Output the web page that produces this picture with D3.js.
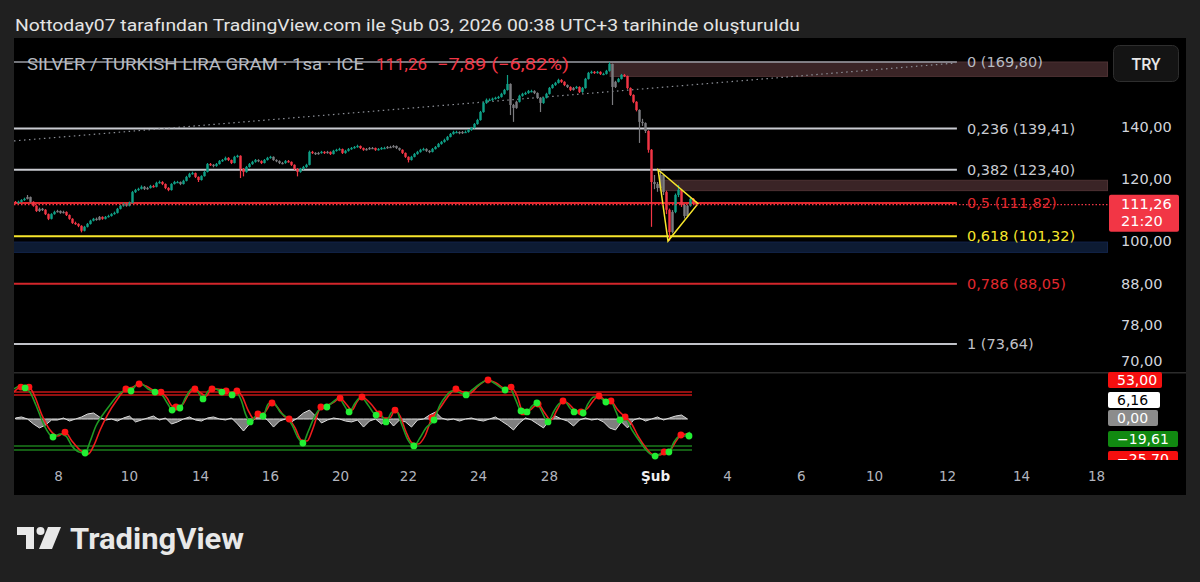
<!DOCTYPE html>
<html><head><meta charset="utf-8">
<script src="https://cdn.jsdelivr.net/npm/d3@7"></script>
<style>html,body{margin:0;background:#202020;}svg{display:block;font-family:Roboto,"Noto Sans",sans-serif}</style>
</head><body><svg id="c" width="1200" height="582"></svg>
<script>
// ---------------- DATA ----------------
const headerText = "Nottoday07 tarafından TradingView.com ile Şub 03, 2026 00:38 UTC+3 tarihinde oluşturuldu";
const symbolTitle = "SILVER / TURKISH LIRA GRAM · 1sa · ICE";
const lastPriceText = "111,26";
const changeText = "−7,89 (−6,82%)";
const lastPrice = 111.26;
const countdownText = "21:20";
const currencyText = "TRY";

const firstOpen = 112.2;
const closes = [
111.9,112.2,112.8,113.2,113.8,112.2,110.9,109.2,109.9,109.6,
108.2,106.7,108.2,108.9,109.2,108.6,108.9,107.9,106.7,105.4,
105.1,104.5,103.0,104.2,105.1,106.1,106.7,106.4,107.3,106.7,
107.3,107.6,108.2,108.6,109.9,110.9,111.5,110.9,111.9,115.5,
116.2,116.6,117.3,116.6,116.9,117.6,117.3,118.7,119.0,118.3,
116.9,116.2,118.3,119.0,119.0,118.3,119.4,120.8,121.9,122.2,
120.8,119.7,121.1,122.6,125.5,125.2,124.8,125.5,126.6,127.0,
127.8,127.0,125.9,128.2,128.6,123.7,122.6,124.4,125.5,126.3,
127.0,126.6,125.9,127.0,127.8,128.2,127.0,126.6,125.9,125.9,
126.6,126.3,125.2,123.7,122.6,123.7,124.4,125.2,130.1,129.7,
129.3,129.7,130.1,129.7,130.1,129.3,130.5,130.9,131.2,129.7,
130.5,131.2,131.6,132.0,132.4,131.6,130.9,131.2,131.6,131.6,
130.9,131.2,131.6,131.6,132.0,132.0,132.4,131.6,130.9,129.7,
128.2,127.0,128.2,129.3,130.1,130.9,131.2,130.5,130.1,131.2,
132.0,133.2,134.0,134.8,136.0,137.2,138.0,138.0,137.6,138.0,
138.0,138.8,139.7,141.3,143.0,146.4,150.4,151.8,151.8,152.3,
152.7,153.1,154.5,156.3,159.1,149.5,148.2,150.9,153.6,154.5,
154.9,155.8,155.8,154.9,152.7,150.4,152.7,154.5,157.2,158.6,
159.6,161.0,160.1,158.6,157.7,156.3,157.2,157.7,155.4,157.2,
161.5,164.4,164.9,164.4,164.9,163.9,163.9,165.4,168.8,157.7,
160.1,161.5,163.4,162.9,157.2,154.0,150.9,147.3,142.2,141.7,
138.4,130.9,119.0,118.3,116.9,121.5,115.5,109.6,102.6,108.9,
114.5,116.2,111.2,107.6,110.9,113.2,111.9,111.26];
const highs = [
112.5,112.6,113.1,113.6,114.5,114.0,112.4,111.1,110.3,110.2,
109.8,108.4,108.5,109.3,109.6,109.4,109.3,109.1,108.1,106.9,
105.8,105.3,104.7,104.5,105.4,106.4,107.0,107.1,107.6,107.5,
107.6,108.0,108.5,109.0,110.2,111.2,111.9,111.8,112.3,115.9,
116.6,117.0,117.8,117.6,117.3,118.0,118.0,119.1,119.5,119.3,
118.5,117.2,118.6,119.4,119.4,119.2,119.8,121.2,122.3,122.7,
122.4,121.0,121.4,123.0,125.9,125.9,125.5,125.9,127.0,127.4,
128.3,128.1,127.2,128.6,129.0,128.8,124.0,124.8,125.9,126.7,
127.4,127.3,126.9,127.4,128.2,128.6,128.4,127.3,126.9,126.3,
127.0,127.0,126.5,125.4,124.0,124.1,124.8,125.6,130.6,130.5,
130.0,130.1,130.5,130.4,130.5,130.3,130.9,131.3,131.7,131.4,
130.9,131.6,132.0,132.4,132.9,132.6,131.8,131.6,132.0,132.0,
131.8,131.6,132.0,132.1,132.4,132.5,132.8,132.6,131.8,131.1,
129.9,128.4,128.6,129.7,130.5,131.3,131.7,131.5,130.8,131.6,
132.4,133.6,134.4,135.3,136.4,137.6,138.5,138.5,138.3,138.4,
138.6,139.2,140.1,141.7,143.5,146.9,150.9,152.4,152.4,152.8,
153.2,153.6,155.0,156.8,163.4,159.4,150.0,151.4,154.1,155.0,
155.5,156.3,156.4,156.2,155.2,153.0,153.1,155.0,157.7,159.1,
160.1,161.6,161.4,160.4,158.9,158.0,157.7,158.2,158.0,157.7,
162.0,164.9,165.5,165.3,165.4,165.2,164.5,165.9,169.8,169.0,
160.6,162.0,163.9,163.9,163.1,157.5,154.3,151.2,147.6,143.5,
142.0,138.7,131.2,121.5,119.0,123.4,121.8,116.0,110.0,109.5,
115.0,118.0,116.5,111.5,111.3,113.8,113.5,112.3];
const lows = [
111.6,111.6,112.0,112.5,113.0,111.9,110.6,108.9,108.9,109.2,
107.9,106.3,106.5,108.0,108.7,108.3,108.4,107.6,106.4,105.1,
104.8,104.1,102.5,102.8,104.0,104.9,105.9,106.1,106.2,106.4,
106.5,107.1,107.4,108.0,108.4,109.7,110.6,110.6,110.7,111.7,
115.2,115.9,116.4,116.2,116.3,116.7,117.0,117.1,118.4,117.9,
116.5,115.8,116.0,118.1,118.6,117.9,118.1,119.2,120.5,121.6,
120.4,119.0,119.5,120.9,122.4,124.8,124.3,124.5,125.3,126.3,
126.8,126.6,125.5,125.7,127.9,120.4,121.0,122.3,124.2,125.2,
126.0,126.2,125.5,125.7,126.8,127.5,126.7,126.2,125.5,125.4,
125.6,126.0,124.8,123.3,121.0,122.3,123.4,124.1,125.0,129.3,
128.9,129.0,129.4,129.3,129.4,128.9,129.1,130.2,130.6,129.3,
129.4,130.2,130.9,131.3,131.7,131.2,130.5,130.6,130.9,131.2,
130.5,130.6,130.9,131.2,131.3,131.6,131.7,131.2,130.5,129.3,
127.8,126.1,126.8,128.0,129.0,129.8,130.6,130.1,129.6,129.9,
131.0,131.8,132.9,133.7,134.5,135.8,136.9,137.5,137.1,137.2,
137.6,137.7,138.5,139.4,141.0,142.7,146.1,150.0,151.2,151.3,
151.9,152.2,152.8,154.1,156.0,145.1,142.2,147.8,150.6,153.2,
154.0,154.5,155.2,154.4,152.2,146.4,150.0,152.4,154.2,156.9,
158.2,159.3,159.6,158.1,157.2,155.8,156.0,156.8,154.9,155.0,
156.9,161.2,164.0,163.9,164.0,163.4,163.3,163.6,165.0,149.5,
157.2,159.8,161.2,162.4,156.7,153.5,150.3,146.7,133.6,140.5,
137.6,129.8,104.2,116.5,115.6,116.5,114.5,108.2,100.0,102.2,
108.5,113.8,110.5,106.8,107.2,110.6,111.2,110.9];
const grayBars = [4,5,8,9,14,15,16,27,28,37,43,44,55,66,81,86,87,88,89,100,101,104,117,118,119,124,125,126,127,128,137,138,148,149,165,166,167,173,174,175,184,186,199,200,208,209,210,213,214,215,216,219,223,224];

const fibLevels = [0, 0.236, 0.382, 0.5, 0.618, 0.786, 1];
const fibPrices = [169.80, 139.41, 123.40, 111.82, 101.32, 88.05, 73.64];
const fibLabels = ["0 (169,80)", "0,236 (139,41)", "0,382 (123,40)", "0,5 (111,82)", "0,618 (101,32)", "0,786 (88,05)", "1 (73,64)"];
const fibStartBar = -1, fibEndBar = 313.8;

const priceTicks = [140, 120, 100, 88, 78, 70];
const priceTickLabels = ["140,00", "120,00", "100,00", "88,00", "78,00", "70,00"];

const dateTickBars = [14.2, 37.8, 61.5, 84.8, 108.2, 130.8, 154.2, 177.8, 213.2, 237.2, 261.8, 286.2, 310.5, 335.2, 360.2];
const dateTickLabels = ["8", "10", "14", "16", "20", "22", "24", "28", "Şub", "4", "6", "10", "12", "14", "18"];

// zones: [startBar, endBar, topPrice, bottomPrice]
const zoneSupply1 = [198.2, 364, 169.8, 162.7];
const zoneSupply2 = [214.8, 364, 119.6, 116.0];
const zoneDemand = [-1, 364, 99.6, 96.6];
const trendLine = [[-0.5, 134.4], [313.5, 169.3]];
const triangle = [[214.2, 123.4], [227.5, 111.6], [217.5, 99.9]];

// oscillator [bar, value]
const oscFast = [[-0.5,26.5],[1.5,29.1],[3.2,27.4],[4.8,23.8],[6.8,12.4],[9.5,-5.3],[12.5,-15.9],[14.8,-13.2],[16.8,-15.0],[18.8,-23.8],[21.2,-29.1],[23.2,-30.0],[24.8,-20.3],[26.8,-6.2],[28.8,2.6],[31.5,12.4],[34.2,21.2],[36.8,25.6],[38.5,24.7],[40.2,30.0],[41.5,31.8],[44.2,26.5],[46.5,23.8],[48.8,21.2],[50.8,13.2],[52.2,7.9],[53.5,8.8],[54.8,9.7],[56.8,19.4],[58.8,26.5],[60.8,23.8],[62.5,17.7],[64.2,24.7],[65.8,27.4],[67.5,25.6],[68.8,23.8],[70.5,24.7],[72.2,21.2],[73.5,23.8],[75.2,16.8],[76.8,3.5],[78.2,-2.6],[79.8,1.8],[81.2,4.4],[82.5,2.6],[84.2,13.2],[85.8,15.0],[88.2,6.2],[90.5,0.9],[92.2,-5.3],[94.2,-16.8],[95.8,-21.2],[97.5,-11.5],[99.5,0.9],[101.5,8.8],[103.8,10.6],[105.8,15.0],[107.8,18.5],[109.5,12.4],[111.2,6.2],[113.2,14.1],[115.2,19.4],[117.5,12.4],[120.2,3.5],[121.5,4.4],[123.5,-2.6],[125.2,5.3],[126.8,7.9],[128.8,-5.3],[130.8,-18.5],[132.8,-23.8],[134.8,-16.8],[136.8,-7.9],[139.5,-0.9],[141.5,12.4],[143.5,20.3],[145.5,24.7],[147.5,23.8],[150.2,21.2],[152.2,25.6],[154.8,30.9],[157.5,34.4],[159.5,31.8],[161.5,28.2],[163.2,25.6],[164.8,27.4],[166.5,18.5],[168.5,7.1],[170.5,6.2],[172.2,11.5],[173.8,14.1],[175.2,7.9],[177.5,-2.6],[179.5,7.1],[181.5,14.1],[183.2,15.0],[184.8,9.7],[186.2,6.2],[187.8,5.3],[189.2,5.3],[190.8,13.2],[192.8,19.4],[194.5,19.4],[196.8,15.0],[198.5,15.0],[200.2,6.2],[201.5,-0.9],[203.5,-0.9],[205.5,-9.7],[208.2,-20.3],[210.8,-29.1],[213.2,-32.7],[214.8,-30.9],[216.2,-29.1],[217.8,-29.1],[219.5,-20.3],[221.5,-15.0],[223.2,-15.0],[224.8,-11.5]];
const oscSlow = [[-0.5,23.8],[1.8,28.2],[4.5,28.2],[6.5,19.4],[8.8,3.5],[11.5,-9.7],[14.2,-15.0],[16.5,-11.5],[18.8,-19.4],[21.5,-27.4],[24.2,-30.9],[26.2,-22.9],[28.2,-9.7],[30.8,4.4],[33.8,16.8],[36.8,26.5],[39.2,28.2],[41.2,30.9],[43.5,29.1],[45.8,25.6],[48.5,23.8],[50.5,18.5],[52.2,11.5],[53.5,10.6],[55.5,12.4],[57.8,22.1],[59.8,26.5],[61.8,22.9],[63.5,20.3],[65.5,26.5],[67.5,26.5],[70.2,24.7],[71.8,22.9],[73.8,24.7],[75.5,20.3],[77.5,7.9],[79.5,0],[80.8,4.4],[82.8,5.3],[85.5,14.1],[87.5,9.7],[89.5,2.6],[91.2,0],[93.2,-7.9],[95.2,-18.5],[97.2,-19.4],[99.2,-7.9],[101.8,10.6],[104.2,12.4],[106.2,15.0],[108.2,18.5],[110.2,13.2],[112.2,7.9],[113.8,15.0],[115.5,19.4],[118.2,14.1],[121.2,4.4],[122.8,0.9],[124.8,0.9],[126.5,7.9],[128.2,2.6],[130.2,-11.5],[132.2,-21.2],[134.2,-22.1],[136.5,-15.0],[138.8,0.9],[141.5,9.7],[143.8,18.5],[146.8,26.5],[149.2,23.8],[151.5,22.9],[154.2,29.1],[157.5,34.4],[160.2,31.8],[162.8,27.4],[165.2,28.2],[167.2,20.3],[169.2,6.2],[171.5,7.9],[174.2,13.2],[176.2,6.2],[178.5,-0.9],[180.5,7.9],[182.5,15.9],[184.5,13.2],[186.5,7.9],[188.5,6.2],[190.8,9.7],[192.8,16.8],[194.5,20.3],[196.5,16.8],[198.5,15.9],[200.8,7.9],[203.2,1.8],[205.2,-3.5],[207.5,-15.0],[210.2,-25.6],[212.8,-31.8],[214.8,-31.8],[216.2,-29.1],[218.2,-27.4],[220.2,-19.4],[221.8,-14.1],[223.5,-13.2],[224.8,-12.4]];
const oscHistStep = 2;
const oscHist = [
0.9,1.8,0,-4.4,-7.9,-5.3,-0.9,-0.9,0.9,-1.8,
0,1.8,4.4,5.3,1.8,-0.9,0,-1.8,0.9,2.6,
-2.6,-0.9,0.9,2.6,-0.9,0.9,-4.4,-2.6,0,1.8,
-0.9,-1.8,0.9,1.8,0,-0.9,0.9,-4.4,-10.6,-4.4,
0.9,2.6,-0.9,-7.1,-1.8,0,-2.6,0.9,5.3,7.9,
2.6,-3.5,-0.9,0.9,0,-1.8,-2.6,-0.9,-7.1,-1.8,
0,-4.4,0,-6.2,-0.9,-2.6,-7.1,-0.9,0,3.5,
6.2,0.9,-0.9,0,-1.8,0,0.9,-0.9,-1.8,0,
1.8,-1.8,-5.3,-9.7,-3.5,0.9,-0.9,-4.4,-7.9,-0.9,
2.6,0,-1.8,-6.2,-0.9,0.9,-0.9,0,-2.6,-7.9,
-9.7,-2.6,-7.9,-0.9,0.9,-1.8,0,1.8,-0.9,0.9,
2.6,3.5,0];
const oscRedDots = [[1.8,28.2],[4.5,28.2],[16.5,-11.5],[36.8,26.5],[41.2,30.9],[48.5,23.8],[53.5,10.6],[59.8,26.5],[65.5,26.5],[70.2,24.7],[73.8,24.7],[80.8,4.4],[85.5,14.1],[91.2,0],[101.8,10.6],[108.2,18.5],[115.5,19.4],[121.2,4.4],[126.5,7.9],[138.8,0.9],[146.8,26.5],[157.5,34.4],[165.2,28.2],[169.2,6.2],[174.2,13.2],[182.5,15.9],[188.5,6.2],[194.5,20.3],[198.5,15.9],[203.2,1.8],[216.2,-29.1],[221.8,-14.1]];
const oscGreenDots = [[3.2,27.4],[12.5,-15.9],[23.2,-30.0],[38.5,24.7],[46.5,23.8],[52.2,7.9],[54.8,9.7],[62.5,17.7],[68.8,23.8],[72.2,21.2],[78.2,-2.6],[82.5,2.6],[95.8,-21.2],[103.8,10.6],[111.2,6.2],[120.2,3.5],[123.5,-2.6],[132.8,-23.8],[139.5,-0.9],[150.2,21.2],[163.2,25.6],[168.5,7.1],[170.5,6.2],[173.8,14.1],[177.5,-2.6],[186.2,6.2],[189.2,5.3],[196.8,15.0],[201.5,-0.9],[213.2,-32.7],[217.8,-29.1],[224.5,-15.0]];
const oscUpperBand = [23.8, 21.2];
const oscLowerBand = [-23.8, -27.4];
const oscBandEndBar = 225.5;
const oscAxisTexts = ["53,00", "6,16", "0,00", "−19,61", "−25,70"];

// ---------------- RENDER ----------------
const svg = d3.select("#c");
const W = 1200, H = 582;
const paneL = 14, paneR = 1186, paneT = 38, paneB = 495, plotR = 1108;
const mainB = 372, oscT = 373, oscB = 460;

const x = d3.scaleLinear().domain([0, 364]).range([15.5, 1107.5]);
const y = d3.scaleLog().domain([73.64, 169.80]).range([344, 62]);
const oy = d3.scaleLinear().domain([-30, 30]).range([453, 385]);

svg.append("rect").attr("width", W).attr("height", H).attr("fill", "#202020");
svg.append("rect").attr("x", paneL).attr("y", paneT).attr("width", paneR - paneL).attr("height", paneB - paneT).attr("fill", "#000");

svg.append("text").attr("x", 15).attr("y", 31).attr("fill", "#e4e4e4")
  .attr("font-size", 17).attr("textLength", 785).attr("lengthAdjust", "spacingAndGlyphs").text(headerText);

const defs = svg.append("defs");
defs.append("clipPath").attr("id", "mainClip").append("rect").attr("x", paneL).attr("y", paneT).attr("width", plotR - paneL).attr("height", mainB - paneT);
defs.append("clipPath").attr("id", "oscClip").append("rect").attr("x", paneL).attr("y", oscT).attr("width", plotR - paneL).attr("height", oscB - oscT);
defs.append("clipPath").attr("id", "oscAxisClip").append("rect").attr("x", plotR).attr("y", oscT - 2).attr("width", 80).attr("height", oscB - oscT + 2);

const main = svg.append("g").attr("clip-path", "url(#mainClip)");

// zones
function zone(z, fill, stroke) {
  main.append("rect").attr("x", x(z[0])).attr("width", x(z[1]) - x(z[0]))
    .attr("y", y(z[2])).attr("height", y(z[3]) - y(z[2]))
    .attr("fill", fill).attr("stroke", stroke).attr("stroke-width", 1);
}
zone(zoneDemand, "#0d1b33", "#13244a");
zone(zoneSupply1, "#3a2426", "#4d3133");
zone(zoneSupply2, "#3a2426", "#4d3133");

// fib lines
const fibStyle = {0:"#9a9da5", 0.236:"#c9cbd1", 0.382:"#c9cbd1", 0.5:"#e0282e", 0.618:"#f7e62c", 0.786:"#d3262b", 1:"#c0c2c8"};
const fibText = {0:"#b8bbc2", 0.236:"#c9cbd1", 0.382:"#c9cbd1", 0.5:"#e0282e", 0.618:"#f7e62c", 0.786:"#e0282e", 1:"#c0c2c8"};
fibLevels.forEach((lv, i) => {
  main.append("line").attr("x1", x(fibStartBar)).attr("x2", x(fibEndBar))
    .attr("y1", y(fibPrices[i])).attr("y2", y(fibPrices[i]))
    .attr("stroke", fibStyle[lv]).attr("stroke-width", lv === 0 ? 1.5 : 2);
});

// trend line (dotted)
main.append("line").attr("x1", x(trendLine[0][0])).attr("y1", y(trendLine[0][1]))
  .attr("x2", x(trendLine[1][0])).attr("y2", y(trendLine[1][1]))
  .attr("stroke", "#8d9098").attr("stroke-width", 1.2).attr("stroke-dasharray", "1.5 3.5");

// candles
const grays = new Set(grayBars);
const candles = closes.map((c, i) => ({i, o: i === 0 ? firstOpen : closes[i - 1], c, h: highs[i], l: lows[i]}));
const cg = main.append("g");
const col = d => grays.has(d.i) ? "#7b7b7f" : (d.c >= d.o ? "#0f9f86" : "#f23645");
cg.selectAll("line.w").data(candles).join("line").attr("class", "w")
  .attr("x1", d => x(d.i)).attr("x2", d => x(d.i))
  .attr("y1", d => y(d.h)).attr("y2", d => y(d.l))
  .attr("stroke", col).attr("stroke-width", 1.2);
cg.selectAll("rect.b").data(candles).join("rect").attr("class", "b")
  .attr("x", d => x(d.i) - 1.2).attr("width", 2.4)
  .attr("y", d => y(Math.max(d.o, d.c)))
  .attr("height", d => Math.max(1.2, Math.abs(y(d.o) - y(d.c))))
  .attr("fill", col);

// triangle
main.append("path").attr("d", d3.line().x(d => x(d[0])).y(d => y(d[1]))(triangle) + "Z")
  .attr("fill", "none").attr("stroke", "#f7e62c").attr("stroke-width", 1.5);

// last price line
main.append("line").attr("x1", paneL).attr("x2", plotR).attr("y1", y(lastPrice)).attr("y2", y(lastPrice))
  .attr("stroke", "#f23645").attr("stroke-width", 1.2).attr("stroke-dasharray", "1.5 2");

// fib labels
const fl = svg.append("g").attr("font-family", "DejaVu Sans, sans-serif").attr("font-size", 14.5);
fibLevels.forEach((lv, i) => {
  fl.append("text").attr("x", 967).attr("y", y(fibPrices[i])).attr("dy", "0.35em")
    .attr("fill", fibText[lv]).text(fibLabels[i]);
});

// title
const tt = svg.append("g").attr("font-size", 16.5);
tt.append("text").attr("x", 27).attr("y", 70).attr("fill", "#b8bbc2")
  .attr("textLength", 337).attr("lengthAdjust", "spacingAndGlyphs").text(symbolTitle);
tt.append("text").attr("x", 376).attr("y", 70).attr("fill", "#f23645")
  .attr("textLength", 51).attr("lengthAdjust", "spacingAndGlyphs").text(lastPriceText);
tt.append("text").attr("x", 437).attr("y", 70).attr("fill", "#f23645")
  .attr("textLength", 132).attr("lengthAdjust", "spacingAndGlyphs").text(changeText);

// price axis
const pa = svg.append("g").attr("transform", `translate(1121,0)`)
  .call(d3.axisRight(y).tickValues(priceTicks).tickFormat((d, i) => priceTickLabels[i]).tickSize(0).tickPadding(0));
pa.select(".domain").remove();
pa.selectAll("text").attr("fill", "#d1d4dc").attr("font-family", "DejaVu Sans, sans-serif").attr("font-size", 14.5).attr("text-anchor", "start");

// TRY button
svg.append("rect").attr("x", 1113.5).attr("y", 45.5).attr("width", 65).attr("height", 36).attr("rx", 6)
  .attr("fill", "#141414").attr("stroke", "#2e2e2e");
svg.append("text").attr("x", 1146).attr("y", 64).attr("dy", "0.35em").attr("text-anchor", "middle")
  .attr("fill", "#e8e8e8").attr("font-size", 16).attr("font-weight", 500).text(currencyText);

// last price label
const lpY = y(lastPrice);
svg.append("rect").attr("x", 1109).attr("y", lpY - 10).attr("width", 70).attr("height", 37).attr("rx", 2).attr("fill", "#f23645");
svg.append("text").attr("x", 1121).attr("y", lpY - 1).attr("dy", "0.35em").attr("fill", "#fff")
  .attr("font-family", "DejaVu Sans, sans-serif").attr("font-size", 14.5).text(lastPriceText);
svg.append("text").attr("x", 1121).attr("y", lpY + 16).attr("dy", "0.35em").attr("fill", "#fff")
  .attr("font-family", "DejaVu Sans, sans-serif").attr("font-size", 14.5).text(countdownText);

// separator
svg.append("rect").attr("x", paneL).attr("y", mainB).attr("width", paneR - paneL).attr("height", 1.5).attr("fill", "#2c2c2c");

// oscillator
const osc = svg.append("g").attr("clip-path", "url(#oscClip)");
osc.append("path").datum(oscHist)
  .attr("d", d3.area().x((d, j) => x(j * oscHistStep)).y0(oy(0)).y1(d => oy(d)))
  .attr("fill", "rgba(170,170,170,0.75)").attr("stroke", "#dcdcdc").attr("stroke-width", 1);
oscUpperBand.forEach(v => osc.append("line").attr("x1", paneL).attr("x2", x(oscBandEndBar)).attr("y1", oy(v)).attr("y2", oy(v)).attr("stroke", "#c41616").attr("stroke-width", 1.6));
oscLowerBand.forEach(v => osc.append("line").attr("x1", paneL).attr("x2", x(oscBandEndBar)).attr("y1", oy(v)).attr("y2", oy(v)).attr("stroke", "#1b7d1b").attr("stroke-width", 1.6));
const ol = d3.line().x(d => x(d[0])).y(d => oy(d[1])).curve(d3.curveMonotoneX);
osc.append("path").attr("d", ol(oscSlow)).attr("fill", "none").attr("stroke", "#ee1c1c").attr("stroke-width", 1.6);
osc.append("path").attr("d", ol(oscFast)).attr("fill", "none").attr("stroke", "#1f9a24").attr("stroke-width", 1.6);
osc.selectAll("circle.r").data(oscRedDots).join("circle").attr("class", "r")
  .attr("cx", d => x(d[0])).attr("cy", d => oy(d[1])).attr("r", 3.4).attr("fill", "#ff1414");
osc.selectAll("circle.g").data(oscGreenDots).join("circle").attr("class", "g")
  .attr("cx", d => x(d[0])).attr("cy", d => oy(d[1])).attr("r", 3.4).attr("fill", "#22ee33");

// oscillator axis labels
const oa = svg.append("g").attr("clip-path", "url(#oscAxisClip)").attr("font-family", "DejaVu Sans, sans-serif").attr("font-size", 14);
const oscLabelStyle = [
  {top: 372, w: 54, bg: "#f50f0f", fg: "#fff"},
  {top: 392, w: 52, bg: "#ffffff", fg: "#000"},
  {top: 410, w: 50, bg: "#8c8c8c", fg: "#fff"},
  {top: 431, w: 70, bg: "#118a11", fg: "#fff"},
  {top: 451, w: 70, bg: "#f50f0f", fg: "#fff"}];
oscAxisTexts.forEach((t, i) => {
  const s = oscLabelStyle[i];
  oa.append("rect").attr("x", 1108).attr("y", s.top).attr("width", s.w).attr("height", 16).attr("rx", 2).attr("fill", s.bg);
  oa.append("text").attr("x", 1117).attr("y", s.top + 8).attr("dy", "0.36em").attr("fill", s.fg).text(t);
});

// date axis
const da = svg.append("g").attr("transform", `translate(0,471)`)
  .call(d3.axisBottom(x).tickValues(dateTickBars).tickFormat((d, i) => dateTickLabels[i]).tickSize(0).tickPadding(0));
da.select(".domain").remove();
da.selectAll("text").attr("font-family", "DejaVu Sans, sans-serif").attr("font-size", 13.5)
  .attr("fill", (d, i) => dateTickLabels[i] === "Şub" ? "#f0f0f0" : "#b2b5be")
  .attr("font-weight", (d, i) => dateTickLabels[i] === "Şub" ? 700 : 400);

// TradingView logo
const lg = svg.append("g").attr("fill", "#e8e8e8");
lg.append("path").attr("d", "M17 527 H34 V549 H26 V535 H17 Z");
lg.append("circle").attr("cx", 40.5).attr("cy", 531).attr("r", 4);
lg.append("path").attr("d", "M48 527 H61 L52 549 H39 Z");
lg.append("text").attr("x", 70).attr("y", 549).attr("font-size", 29).attr("font-weight", 700)
  .attr("textLength", 174).attr("lengthAdjust", "spacingAndGlyphs").text("TradingView");
</script></body></html>
